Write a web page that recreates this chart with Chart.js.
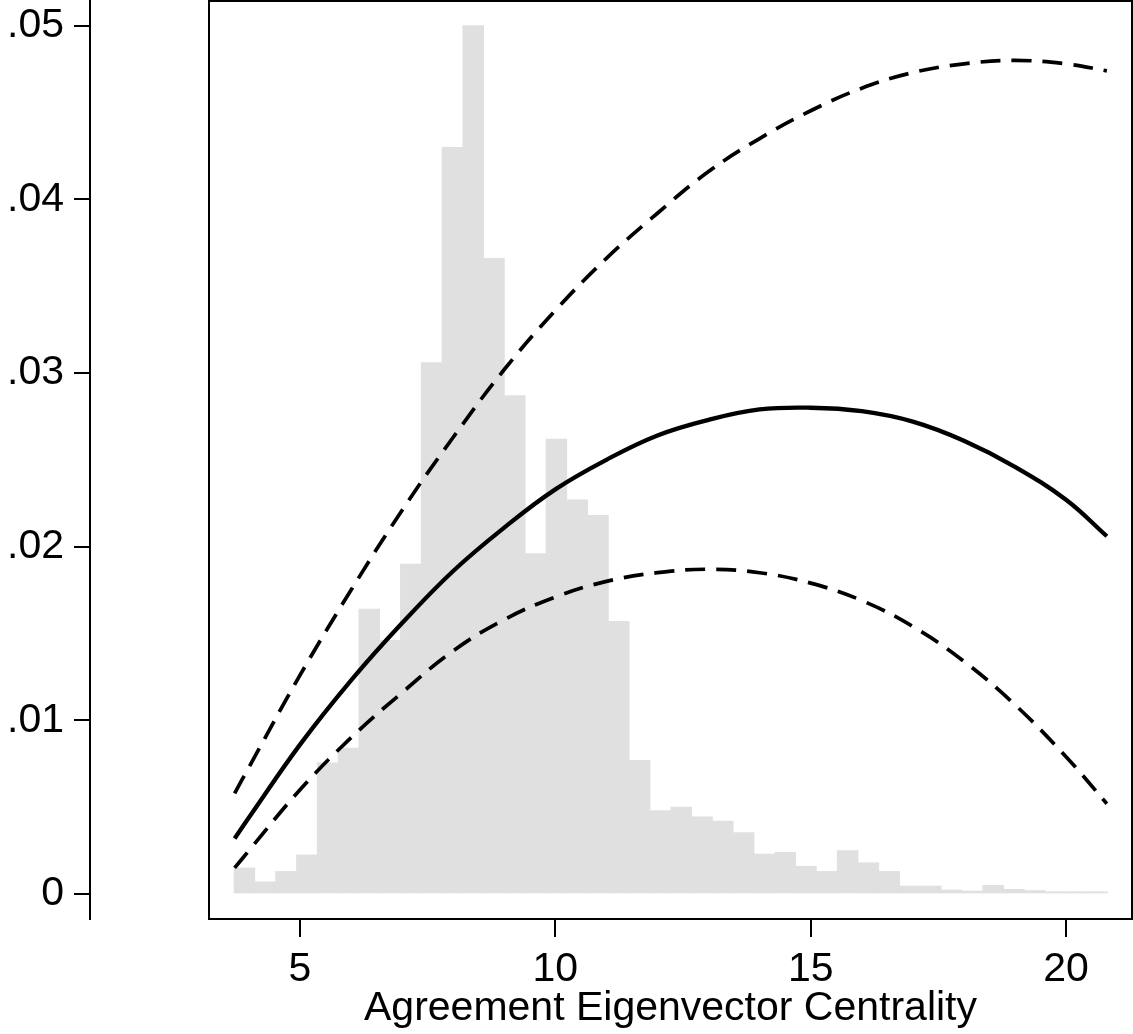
<html>
<head>
<meta charset="UTF-8">
<script src="https://cdn.jsdelivr.net/npm/chart.js@4/dist/chart.umd.min.js"></script>
<style>
body { margin: 0; background: #fff; }
canvas { display: block; }
</style>
</head>
<body>
<canvas id="c" width="1133" height="1034"></canvas>
<script>
// histogram bins: first left edge and bin width, heights
var binStart = 3.708;
var binWidth = 0.4073;
var density = [0.0015, 0.0007, 0.0013, 0.00225, 0.00755, 0.0084, 0.0164, 0.0146, 0.019, 0.0306,
  0.043, 0.050, 0.0366, 0.0287, 0.0196, 0.0262, 0.0227, 0.0218, 0.0157, 0.0077,
  0.0048, 0.0050, 0.00445, 0.0042, 0.00353, 0.0023, 0.0024, 0.0016, 0.0013, 0.0025,
  0.0018, 0.0013, 0.00046, 0.00046, 0.00023, 0.00017, 0.0005, 0.00027, 0.0002, 0.00013,
  0.00013, 0.00013];

// fitted curve and its bounds
var xs    = [3.72, 4, 5, 6, 7, 8, 9, 10, 11, 12, 13, 14, 15, 16, 17, 18, 19, 20, 20.8];
var fit   = [0.0032, 0.0044, 0.0086, 0.0123, 0.0156, 0.0186, 0.0211, 0.0233, 0.0250, 0.0264,
  0.0273, 0.0279, 0.0280, 0.0278, 0.0272, 0.0261, 0.0246, 0.0227, 0.0206];
var upper = [0.0058, 0.0073, 0.0126, 0.0175, 0.0221, 0.0263, 0.0302, 0.0336, 0.0366, 0.0392,
  0.0416, 0.0435, 0.0451, 0.0464, 0.0473, 0.0478, 0.0480, 0.0478, 0.0474];
var lower = [0.0015, 0.0025, 0.0060, 0.0090, 0.0116, 0.0140, 0.0158, 0.0171, 0.0180, 0.0185,
  0.0187, 0.0185, 0.0179, 0.0169, 0.0154, 0.0134, 0.0109, 0.0079, 0.0052];

var xTicks = [5, 10, 15, 20];
var yTicks = [0, 0.01, 0.02, 0.03, 0.04, 0.05];
var yTickLabels = ['0', '.01', '.02', '.03', '.04', '.05'];
var xTitle = 'Agreement Eigenvector Centrality';

var FONT = { family: "'Liberation Sans', Arial, sans-serif", size: 41 };

function pts(ys) {
  return xs.map(function(x, i) { return { x: x, y: ys[i] }; });
}
var bars = density.map(function(h, i) {
  return { x: binStart + (i + 0.5) * binWidth, y: h };
});

var frame = {
  id: 'frame',
  afterDraw: function(chart) {
    var a = chart.chartArea, ctx = chart.ctx;
    ctx.save();
    ctx.strokeStyle = '#000';
    ctx.lineWidth = 2;
    ctx.strokeRect(a.left, a.top, a.right - a.left, a.bottom - a.top);
    ctx.restore();
  }
};

function lineSet(data, dash, width) {
  return {
    type: 'line', data: data, borderColor: '#000', borderWidth: width,
    borderDash: dash, pointRadius: 0, tension: 0.4, fill: false, order: 0,
    borderCapStyle: 'butt'
  };
}

new Chart(document.getElementById('c'), {
  data: {
    datasets: [
      lineSet(pts(fit), [], 4.3),
      lineSet(pts(upper), [20, 11], 3.7),
      lineSet(pts(lower), [20, 11], 3.7),
      {
        type: 'bar', data: bars, backgroundColor: '#e0e0e0', borderWidth: 0,
        barPercentage: 1, categoryPercentage: 1, order: 5
      }
    ]
  },
  options: {
    responsive: false,
    animation: false,
    layout: { padding: { top: 1, right: 1, left: 0, bottom: 0 } },
    plugins: { legend: { display: false }, tooltip: { enabled: false } },
    scales: {
      x: {
        type: 'linear', position: 'bottom', min: 3.218, max: 21.292,
        offset: false,
        afterBuildTicks: function(s) { s.ticks = xTicks.map(function(v) { return { value: v }; }); },
        afterFit: function(s) { s.height = 115; },
        border: { display: false },
        grid: { offset: false, drawOnChartArea: false, drawTicks: true, tickLength: 18, color: '#000', lineWidth: 2 },
        ticks: { color: '#000', font: FONT, padding: 8, maxRotation: 0 },
        title: { display: true, text: xTitle, color: '#000', font: FONT, padding: { top: 0, bottom: 1 } }
      },
      y: {
        type: 'linear', position: 'left', weight: 1, min: -0.00144, max: 0.05142,
        afterBuildTicks: function(s) { s.ticks = yTicks.map(function(v) { return { value: v }; }); },
        afterFit: function(s) { s.width = 90; s.paddingTop = 0; s.paddingBottom = 0; },
        border: { display: true, color: '#000', width: 2 },
        grid: { drawOnChartArea: false, drawTicks: true, tickLength: 16, color: '#000', lineWidth: 2 },
        ticks: {
          color: '#000', font: FONT, padding: 10,
          callback: function(v) { return yTickLabels[yTicks.indexOf(v)]; }
        }
      },
      gap: {
        type: 'linear', position: 'left', weight: 0, display: true,
        afterFit: function(s) { s.width = 119; s.paddingTop = 0; s.paddingBottom = 0; },
        border: { display: false },
        grid: { display: false },
        ticks: { display: false }
      }
    }
  },
  plugins: [frame]
});
</script>
</body>
</html>
